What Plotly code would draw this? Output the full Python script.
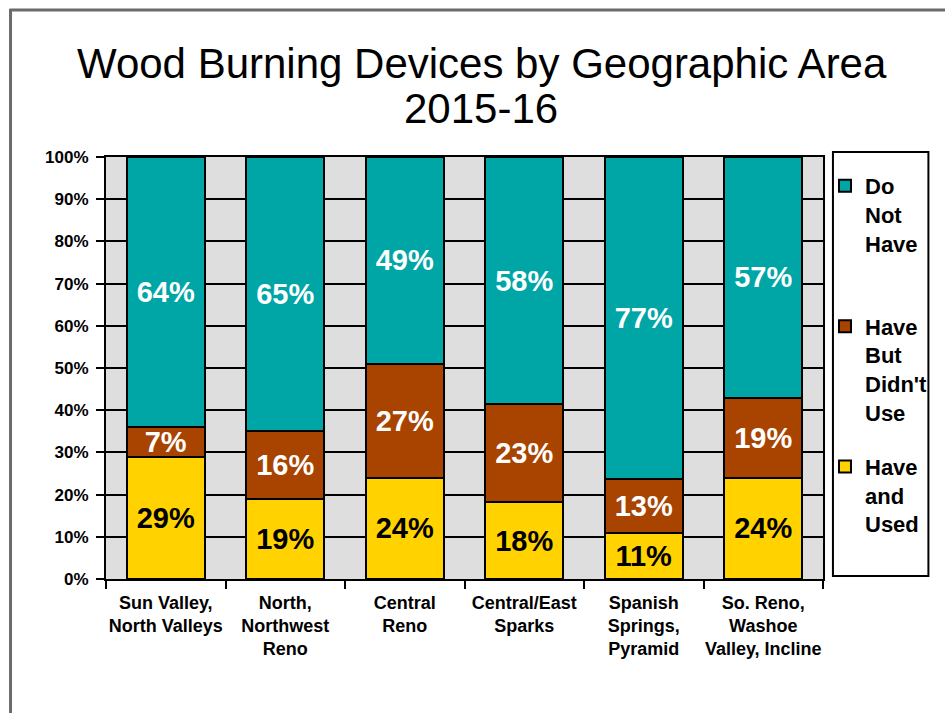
import plotly.graph_objects as go

categories = ["Sun Valley,<br>North Valleys", "North,<br>Northwest<br>Reno", "Central<br>Reno",
              "Central/East<br>Sparks", "Spanish<br>Springs,<br>Pyramid", "So. Reno,<br>Washoe<br>Valley, Incline"]
have_used = [29, 19, 24, 18, 11, 24]
have_not_used = [7, 16, 27, 23, 13, 19]
do_not_have = [64, 65, 49, 58, 77, 57]

series_names = ["Have<br>and<br>Used", "Have<br>But<br>Didn't<br>Use", "Do<br>Not<br>Have<br> "]
series_colors = ["#FFD200", "#A84300", "#00A6A6"]
text_colors = ["black", "white", "white"]
legend_ranks = [3, 2, 1]
title_lines = ["Wood Burning Devices by Geographic Area", "2015-16"]

FONT = "Liberation Sans, Arial, sans-serif"

fig = go.Figure()
for vals, name, col, tcol, rank in zip([have_used, have_not_used, do_not_have], series_names,
                                       series_colors, text_colors, legend_ranks):
    fig.add_trace(go.Bar(
        x=categories, y=vals, name=name, legendgroup=name, legendrank=rank,
        marker=dict(color=col, line=dict(color="black", width=2)),
        text=[f"{v}%" for v in vals], textposition="inside", insidetextanchor="middle",
        textangle=0, constraintext="none",
        textfont=dict(family=FONT, size=29, color=tcol, weight="bold"),
    ))

# plot geometry in pixels
L, R, T, B = 106, 827, 157, 579
W, H = R - L, B - T
def px(x): return (x - L) / W
def py(y): return (B - y) / H

shapes = [
    # slide frame
    dict(type="line", xref="paper", yref="paper", x0=px(10), x1=px(10), y0=py(9), y1=py(720),
         line=dict(color="#6b6b6b", width=3)),
    dict(type="line", xref="paper", yref="paper", x0=px(9), x1=px(950), y0=py(10), y1=py(10),
         line=dict(color="#6b6b6b", width=3)),
    # legend box
    dict(type="rect", xref="paper", yref="paper", x0=px(837), x1=px(933), y0=py(576), y1=py(152),
         line=dict(color="black", width=2), fillcolor="white", layer="below"),
]

annotations = [
    dict(text=title_lines[0], xref="paper", yref="paper", x=px(484), y=py(63), xanchor="center",
         yanchor="middle", showarrow=False, font=dict(family=FONT, size=42, color="black")),
    dict(text=title_lines[1], xref="paper", yref="paper", x=px(483), y=py(108), xanchor="center",
         yanchor="middle", showarrow=False, font=dict(family=FONT, size=42, color="black")),
]

fig.update_layout(
    width=945, height=713,
    margin=dict(l=L, r=945 - R, t=T, b=713 - B, pad=0),
    paper_bgcolor="white", plot_bgcolor="#DEDEDE",
    barmode="stack", barnorm="percent", bargap=0.35,
    font=dict(family=FONT, color="black"),
    shapes=shapes, annotations=annotations,
    showlegend=True,
    legend=dict(x=px(829), xanchor="left", y=py(165), yanchor="top", valign="top",
                traceorder="grouped", tracegroupgap=23, bgcolor="rgba(0,0,0,0)",
                font=dict(family=FONT, size=22, color="black", weight="bold"), itemclick=False),
    xaxis=dict(tickson="boundaries", ticks="outside", ticklen=8, tickwidth=2, tickcolor="black",
               tickangle=0, showline=True, linecolor="black", linewidth=2, mirror=True, showgrid=False,
               ticklabelstandoff=6,
               tickfont=dict(family=FONT, size=18, color="black", weight="bold")),
    yaxis=dict(range=[0, 100], dtick=10, ticksuffix="%", ticks="outside", ticklen=8, tickwidth=2,
               tickcolor="black", showline=True, linecolor="black", linewidth=2, mirror=True,
               showgrid=True, gridcolor="black", gridwidth=2, zeroline=False, ticklabelstandoff=4,
               tickfont=dict(family=FONT, size=17, color="black", weight="bold")),
)

fig.write_html("out.html")
